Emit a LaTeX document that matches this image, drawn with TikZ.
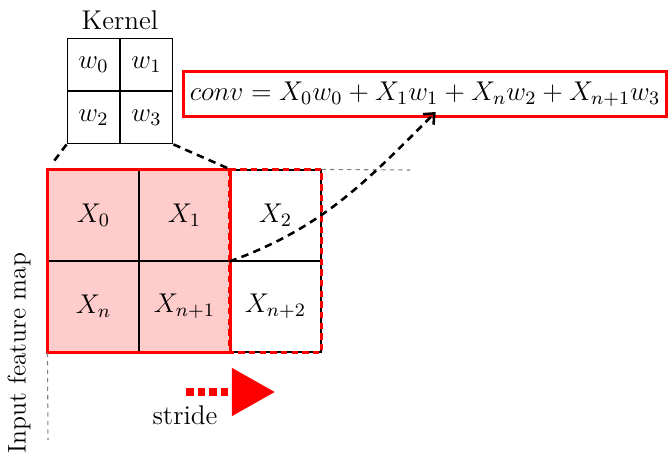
\RequirePackage{fix-cm}
\documentclass[tikz,border=0pt,12pt]{standalone}
\usepackage{amsmath,amssymb}
\usetikzlibrary{arrows.meta, positioning}

\begin{document}
\begin{tikzpicture}[
  x=0.01648cm, y=-0.01648cm, >=Stealth,
  every node/.style={font=\fontsize{12.7}{15}\selectfont},
  kcell/.style={draw, line width=0.5pt, minimum size=0.87cm, inner sep=0pt},
  fcell/.style={draw, line width=0.5pt, minimum size=1.5cm, inner sep=0pt},
  link/.style={line width=1.2pt, dash pattern=on 3.5pt off 2.5pt},
  guide/.style={gray, line width=0.5pt, dash pattern=on 2pt off 2pt}
]
  \useasboundingbox (0,0) rectangle (669,457);
  % kernel
  \node[kcell] (w0) at (93.5,64.5) {$w_0$};
  \node[kcell] (w1) at (146.5,64.5) {$w_1$};
  \node[kcell] (w2) at (93.5,117.5) {$w_2$};
  \node[kcell] (w3) at (146.5,117.5) {$w_3$};
  \node (kern) at (120,20) {Kernel};
  % input feature map
  \node[fcell, fill=red!20] (X0) at (93.5,215.5) {$X_0$};
  \node[fcell, fill=red!20] (X1) at (184.5,215.5) {$X_1$};
  \node[fcell] (X2) at (275.5,215.5) {$X_2$};
  \node[fcell, fill=red!20] (Xn) at (93.5,306.5) {$X_n$};
  \node[fcell, fill=red!20] (Xn1) at (184.5,306.5) {$X_{n+1}$};
  \node[fcell] (Xn2) at (275.5,306.5) {$X_{n+2}$};
  \draw[red, line width=1.6pt] (X0.north west) rectangle (Xn1.south east);
  \draw[red, line width=1.3pt, dash pattern=on 3pt off 2pt] (X2.north west) rectangle (Xn2.south east);
  \node[rotate=90, font=\fontsize{12}{14}\selectfont] (ifm) at (19,353) {Input feature map};
  \coordinate (gr) at (410,170);
  \coordinate (gd) at (48,440);
  \draw[guide] (X2.north east) -- (gr);
  \draw[guide] (Xn.south west) -- (gd);
  % result
  \node[draw=red, line width=1.4pt, inner xsep=3pt, inner ysep=5pt] (conv) at (425,94) {$conv = X_0w_0 + X_1w_1 + X_nw_2 + X_{n+1}w_3$};
  \draw[link] (w2.south west) -- ([shift={(4,-5)}]X0.north west);
  \draw[link] (w3.south east) -- (X1.north east);
  \draw[link, -{Straight Barb[length=4pt, width=7pt]}] (X2.south west) to[out=20, in=-135] ([xshift=5,yshift=3]conv.south);
  % stride
  \coordinate (s0) at (186,392);
  \coordinate (s1) at (275,392);
  \draw[red, line width=3.6pt, dash pattern=on 3.6pt off 1.8pt,
        -{Triangle[length=0.71cm, width=0.76cm]}] (s0) -- (s1);
  \node (stride) at (185,415) {stride};
\end{tikzpicture}
\end{document}
